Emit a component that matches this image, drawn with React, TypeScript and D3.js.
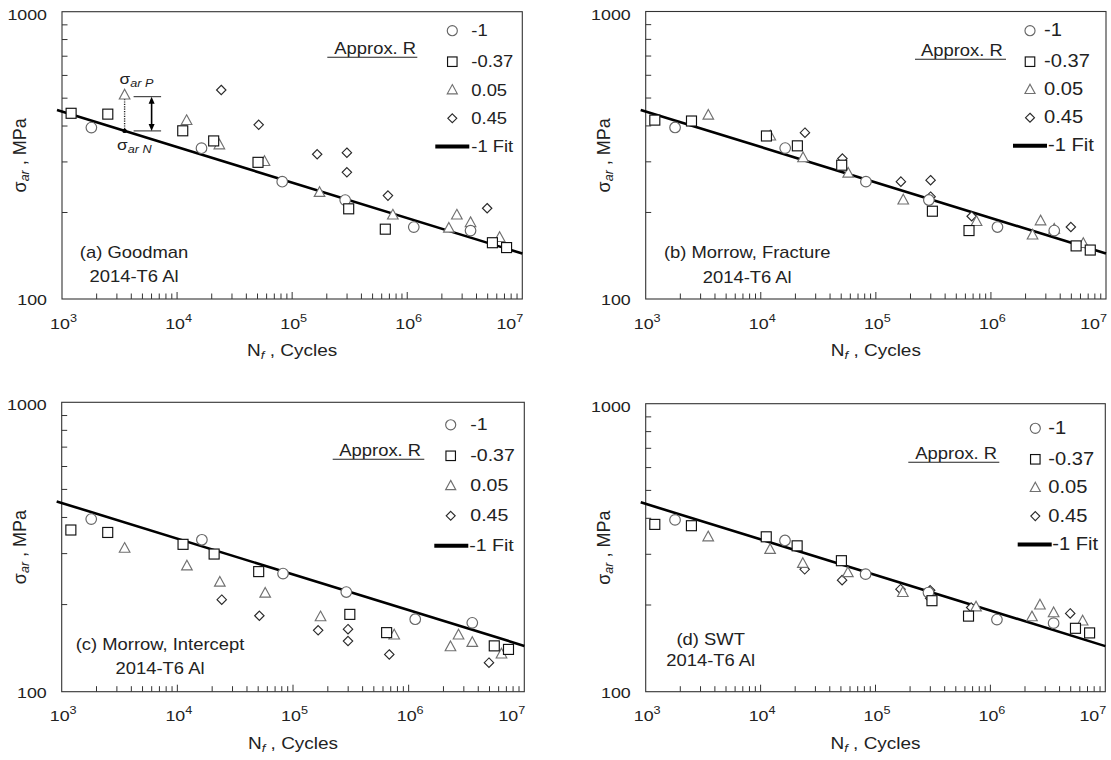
import React from "react";
import * as d3 from "d3";

// ---------- data ----------
const rLegendLabels = ["-1", "-0.37", "0.05", "0.45"];
const fitLegendLabel = "-1 Fit";
const xTickExponents = [3, 4, 5, 6, 7];
const yTickLabels = [100, 1000];

// cycles to failure per R-ratio series (same tests in every panel)
const circleN = [1800, 16300, 82000, 289000, 1140000, 3550000];
const squareN = [1200, 2500, 11200, 20800, 50500, 310000, 645000, 5500000, 7300000];
const triangleN = [3500, 12100, 23300, 57500, 173000, 750000, 2300000, 2700000, 3550000, 6350000];
const diamondN = [24200, 51200, 165000, 299000, 299000, 680000, 4950000];

// R = -1 (identical in all panels)
const circleSigma = [395, 335, 256, 221, 178, 173];

// (a) Goodman
const goodmanSquare = [443, 440, 385, 355, 299, 206, 175, 157, 151];
const goodmanTriangle = [513, 418, 344, 301, 235, 196, 176.5, 196, 184.5, 163.7];
const goodmanDiamond = [534, 404, 319, 323, 276, 229, 207];
// (b) Morrow, Fracture
const fractureSquare = [419, 416, 369, 341, 292, 202, 173, 153, 148];
const fractureTriangle = [436, 369, 310, 274, 221, 186, 167, 187, 175, 156];
const fractureDiamond = [379, 308, 256, 259, 227, 194, 178];
// (c) Morrow, Intercept
const interceptSquare = [362, 355, 323, 299, 260, 185, 160, 144, 140];
const interceptTriangle = [313, 272, 239, 219, 181.5, 157, 143, 157, 148, 135];
const interceptDiamond = [208, 183, 163, 164.5, 149.6, 134.5, 126];
// (d) SWT
const swtSquare = [381, 377, 345, 321, 285, 207, 183, 166, 160];
const swtTriangle = [345, 312, 279, 259, 221, 197, 182, 200, 188, 176];
const swtDiamond = [266, 244, 227, 225, 211, 196, 187];

// R = -1 fit: sigma = A * (N/1000)^b
const fitSigmaAt1000 = 449;
const fitExponent = -0.1235;
const fitNRange = [905, 1e7];

// annotation in (a)
const annotN = 3500;
const annotSigmaP = 506;

// ---------- layout ----------
const FONT = "'Liberation Sans', Arial, Helvetica, sans-serif";
const SX = 1.15;

const panels = [
  {
    id: "a", title: ["(a) Goodman", "2014-T6 Al"], sq: goodmanSquare, tri: goodmanTriangle, dia: goodmanDiamond,
    box: { left: 62, top: 11.7, right: 522.3, bottom: 299 },
    titleDx: 72, titleDy: [246.3, 270],
    legend: { sym: -70, text: -51, fit: [-87, -53], fitText: -51, font: 16, row0: 50, step: 28.3 },
    approx: { x: -188, line: [-195, -105], y: 45.6 }, annotate: true,
  },
  {
    id: "b", title: ["(b) Morrow, Fracture", "2014-T6 Al"], sq: fractureSquare, tri: fractureTriangle, dia: fractureDiamond,
    box: { left: 645.7, top: 11.5, right: 1106, bottom: 299 },
    titleDx: 101.5, titleDy: [246.8, 271.2],
    legend: { sym: -76, text: -62, fit: [-93, -59], fitText: -58, font: 17.5, row0: 50.2, step: 28 },
    approx: { x: -185, line: [-191, -100], y: 47.8 }, annotate: false,
  },
  {
    id: "c", title: ["(c) Morrow, Intercept", "2014-T6 Al"], sq: interceptSquare, tri: interceptTriangle, dia: interceptDiamond,
    box: { left: 61.7, top: 402.3, right: 524.3, bottom: 691.7 },
    titleDx: 98.3, titleDy: [247.5, 271.5],
    legend: { sym: -73.6, text: -54, fit: [-90, -56], fitText: -55, font: 17, row0: 53.5, step: 30 },
    approx: { x: -185, line: [-191.6, -100], y: 57 }, annotate: false,
  },
  {
    id: "d", title: ["(d) SWT", "2014-T6 Al"], sq: swtSquare, tri: swtTriangle, dia: swtDiamond,
    box: { left: 645.7, top: 403.7, right: 1105.3, bottom: 691.7 },
    titleDx: 65, titleDy: [241.3, 262.3],
    legend: { sym: -70, text: -57, fit: [-87.6, -53.6], fitText: -53, font: 17.5, row0: 55.6, step: 28.4 },
    approx: { x: -190, line: [-197, -106], y: 58.6 }, annotate: false,
  },
];

const COL_CIRCLE = "#666";
const COL_TRI = "#707070";
const COL_SQ = "#111";
const COL_DIA = "#2a2a2a";
const TEXT = "#222";

function T({ x, y, anchor = "start", size = 16, children, style }: any) {
  return (
    <text
      transform={`translate(${x},${y}) scale(${SX},1)`}
      textAnchor={anchor}
      fontSize={size}
      fontFamily={FONT}
      fill={TEXT}
      style={style}
    >
      {children}
    </text>
  );
}

function Marker({ kind, x, y, s = 1 }: any) {
  const sw = 1.15;
  if (kind === "circle")
    return <circle cx={x} cy={y} r={5.3 * s} fill="white" stroke={COL_CIRCLE} strokeWidth={sw} />;
  if (kind === "square") {
    const h = 5 * s;
    return <rect x={x - h} y={y - h} width={2 * h} height={2 * h} fill="white" stroke={COL_SQ} strokeWidth={sw} />;
  }
  if (kind === "triangle") {
    const w = 5.3 * s, t = 5.7 * s, b = 4 * s;
    return (
      <path d={`M${x},${y - t}L${x + w},${y + b}L${x - w},${y + b}Z`} fill="white" stroke={COL_TRI} strokeWidth={sw} />
    );
  }
  const r = 4.7 * s;
  return <path d={`M${x},${y - r}L${x + r},${y}L${x},${y + r}L${x - r},${y}Z`} fill="white" stroke={COL_DIA} strokeWidth={sw} />;
}

function Panel({ p }: any) {
  const { left, top, right, bottom } = p.box;
  const x = d3.scaleLog().domain([1e3, 1e7]).range([left, right]);
  const y = d3.scaleLog().domain([100, 1000]).range([bottom, top]);
  const fit = (n: number) => fitSigmaAt1000 * Math.pow(n / 1000, fitExponent);
  const line = d3
    .line<number>()
    .x((n) => x(n))
    .y((n) => y(fit(n)));

  const xMinor = x.ticks().filter((v) => v > 1e3 && v < 1e7);
  const yMinor = y.ticks().filter((v) => v > 100 && v < 1000);
  const isPow10 = (v: number) => Math.abs(Math.log10(v) - Math.round(Math.log10(v))) < 1e-9;

  const L = p.legend;
  const rows = [L.row0 - 31, L.row0, L.row0 + L.step, L.row0 + 2 * L.step, L.row0 + 3 * L.step].map((r) => top + r);
  const kinds = ["circle", "square", "triangle", "diamond"];

  const series = [
    { kind: "diamond", n: diamondN, s: p.dia },
    { kind: "triangle", n: triangleN, s: p.tri },
    { kind: "circle", n: circleN, s: circleSigma },
    { kind: "square", n: squareN, s: p.sq },
  ];

  const ax = x(annotN);
  const ayP = y(annotSigmaP);
  const ayTri = y(p.tri[0]);
  const ayN = y(fit(annotN));
  const lastExp = xTickExponents[xTickExponents.length - 1];

  return (
    <g>
      {/* frame */}
      <rect x={left} y={top} width={right - left} height={bottom - top} fill="none" stroke="#333" strokeWidth={1.1} />
      {/* ticks */}
      {xMinor.map((v) => (
        <line key={"xt" + v} x1={x(v)} x2={x(v)} y1={bottom} y2={bottom - (isPow10(v) ? 7 : 5.5)} stroke="#333" strokeWidth={1} />
      ))}
      {yMinor.map((v) => (
        <line key={"yt" + v} x1={left} x2={left + 5.5} y1={y(v)} y2={y(v)} stroke="#333" strokeWidth={1} />
      ))}
      {/* tick labels */}
      {xTickExponents.map((e) => (
        <T
          key={"xl" + e}
          x={e === lastExp ? x(Math.pow(10, e)) + 1 : x(Math.pow(10, e)) + 1.5}
          y={bottom + 29.5}
          anchor={e === lastExp ? "end" : "middle"}
          size={15.5}
        >
          10
          <tspan dy={-7} fontSize={11}>
            {e}
          </tspan>
        </T>
      ))}
      {yTickLabels.map((v) => (
        <T key={"yl" + v} x={left - 15} y={v === 1000 ? top + 8 : bottom + 6} anchor="end" size={15.5}>
          {v}
        </T>
      ))}
      {/* axis titles */}
      <T x={(left + right) / 2} y={bottom + 57} anchor="middle" size={16.5}>
        N
        <tspan fontSize={11.5} fontStyle="italic" dy={3}>
          f
        </tspan>
        <tspan dy={-3}> , Cycles</tspan>
      </T>
      <text
        transform={`translate(${left - 36},${(top + bottom) / 2}) rotate(-90)`}
        textAnchor="middle"
        fontSize={18}
        fontFamily={FONT}
        fill={TEXT}
      >
        σ
        <tspan fontSize={12.5} fontStyle="italic" dy={3}>
          ar
        </tspan>
        <tspan dy={-3}> , MPa</tspan>
      </text>

      {/* fit line */}
      <path d={line(fitNRange) || ""} fill="none" stroke="#000" strokeWidth={2.6} />

      {/* annotation */}
      {p.annotate && (
        <g>
          <line x1={ax} x2={ax} y1={ayTri + 4} y2={ayN} stroke="#222" strokeWidth={1.4} strokeDasharray="1.2,1.2" />
          <circle cx={ax} cy={ayN} r={2.2} fill="#000" />
          <line x1={ax + 9} x2={ax + 36.5} y1={ayP} y2={ayP} stroke="#222" strokeWidth={1} />
          <line x1={ax + 9} x2={ax + 36.5} y1={ayN} y2={ayN} stroke="#222" strokeWidth={1} />
          <line x1={ax + 27} x2={ax + 27} y1={ayP + 5} y2={ayN - 5} stroke="#000" strokeWidth={1.6} />
          <path d={`M${ax + 27},${ayP}L${ax + 30},${ayP + 7}L${ax + 24},${ayP + 7}Z`} fill="#000" />
          <path d={`M${ax + 27},${ayN}L${ax + 30},${ayN - 7}L${ax + 24},${ayN - 7}Z`} fill="#000" />
          <T x={ax - 5} y={ayTri - 11} size={15}>
            σ
            <tspan fontSize={11} fontStyle="italic" dy={3}>
              ar P
            </tspan>
          </T>
          <T x={ax - 7.5} y={ayN + 19} size={15}>
            σ
            <tspan fontSize={11} fontStyle="italic" dy={3}>
              ar N
            </tspan>
          </T>
        </g>
      )}

      {/* data */}
      {series.map((se) =>
        se.n.map((n: number, i: number) => (
          <Marker key={se.kind + i} kind={se.kind} x={x(n)} y={y(se.s[i])} />
        ))
      )}

      {/* panel title */}
      {p.title.map((t: string, i: number) => (
        <T key={"t" + i} x={left + p.titleDx} y={top + p.titleDy[i]} anchor="middle" size={16}>
          {t}
        </T>
      ))}

      {/* legend */}
      <T x={right + p.approx.x} y={top + p.approx.y - 3.5} size={16}>
        Approx. R
      </T>
      <line x1={right + p.approx.line[0]} x2={right + p.approx.line[1]} y1={top + p.approx.y} y2={top + p.approx.y} stroke="#222" strokeWidth={1.1} />
      {kinds.map((k, i) => (
        <g key={"lg" + k}>
          <Marker kind={k} x={right + L.sym} y={rows[i]} s={0.95} />
          <T x={right + L.text} y={rows[i] + 5.6} size={L.font}>
            {rLegendLabels[i]}
          </T>
        </g>
      ))}
      <line x1={right + L.fit[0]} x2={right + L.fit[1]} y1={rows[4]} y2={rows[4]} stroke="#000" strokeWidth={4} />
      <T x={right + L.fitText} y={rows[4] + 5.6} size={L.font}>
        {fitLegendLabel}
      </T>
    </g>
  );
}

export default function App() {
  return (
    <svg width={1111} height={760} style={{ display: "block", position: "absolute", left: 0, top: 0, background: "white" }}>
      <rect width={1111} height={760} fill="white" />
      {panels.map((p) => (
        <Panel key={p.id} p={p} />
      ))}
    </svg>
  );
}
